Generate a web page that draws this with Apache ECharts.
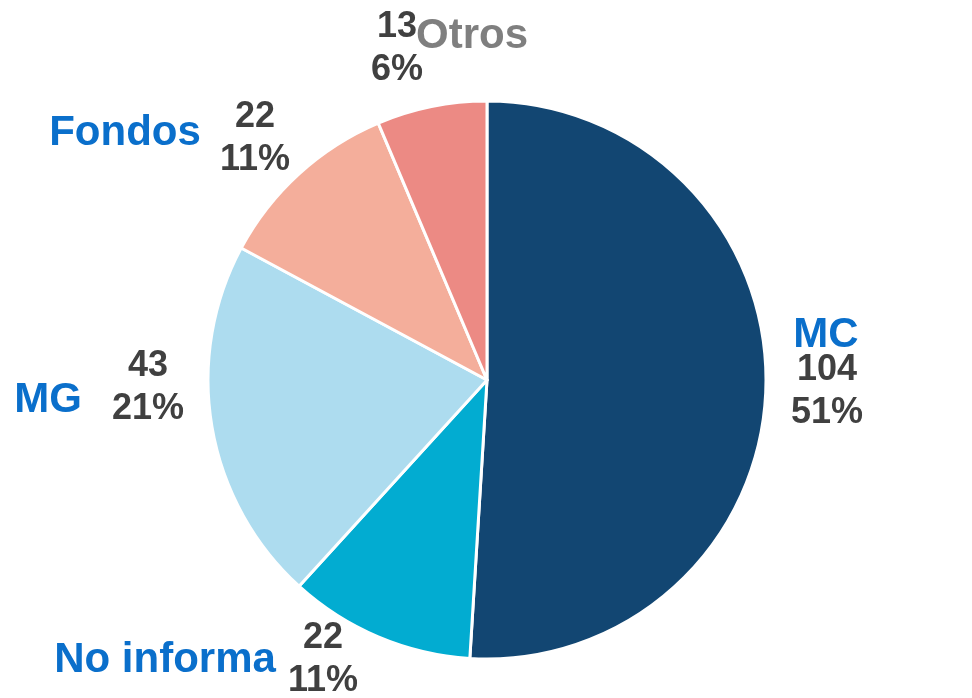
<!DOCTYPE html>
<html>
<head>
<meta charset="utf-8">
<script src="https://cdn.jsdelivr.net/npm/echarts@6/dist/echarts.min.js"></script>
<style>
  html, body { margin: 0; padding: 0; background: #fff; }
  #chart { width: 972px; height: 698px; }
</style>
</head>
<body>
<div id="chart"></div>
<script>
const categories = ["MC", "No informa", "MG", "Fondos", "Otros"];
const values = [104, 22, 43, 22, 13];
const percents = ["51%", "11%", "21%", "11%", "6%"];

const colors = ["#124672", "#02ACD1", "#ADDCEF", "#F4AE9B", "#EC8A84"];
const nameColors = ["#0A6FCB", "#0A6FCB", "#0A6FCB", "#0A6FCB", "#7F7F7F"];
// label anchor points (name, numbers)
const namePos = [[826, 335], [165, 660], [48, 400], [125, 133], [472, 36]];
const numPos = [[827, 392], [323, 660], [148, 388], [255, 139], [397, 49]];

const chart = echarts.init(document.getElementById("chart"));

const base = {
  type: "pie",
  center: [487, 380],
  radius: 279,
  startAngle: 90,
  clockwise: true,
  animation: false,
  labelLine: { show: false },
  emphasis: { disabled: true }
};

const font = "'Liberation Sans', Arial, sans-serif";

chart.setOption({
  series: [
    Object.assign({}, base, {
      itemStyle: { borderColor: "#fff", borderWidth: 3 },
      data: categories.map((c, i) => ({
        name: c,
        value: values[i],
        itemStyle: { color: colors[i] }
      })),
      label: {
        show: true,
        position: "outside",
        formatter: (p) => p.value + "\n" + percents[p.dataIndex],
        fontFamily: font,
        fontWeight: "bold",
        fontSize: 36,
        lineHeight: 43,
        color: "#404040",
        align: "center"
      },
      labelLayout: (p) => ({
        x: numPos[p.dataIndex][0],
        y: numPos[p.dataIndex][1],
        align: "center",
        verticalAlign: "middle"
      })
    }),
    Object.assign({}, base, {
      silent: true,
      itemStyle: { color: "transparent", borderWidth: 0 },
      data: categories.map((c, i) => ({
        name: c,
        value: values[i],
        label: { color: nameColors[i] }
      })),
      label: {
        show: true,
        position: "outside",
        formatter: "{b}",
        fontFamily: font,
        fontWeight: "bold",
        fontSize: 42
      },
      labelLayout: (p) => ({
        x: namePos[p.dataIndex][0],
        y: namePos[p.dataIndex][1],
        align: "center",
        verticalAlign: "middle"
      })
    })
  ]
});
</script>
</body>
</html>
